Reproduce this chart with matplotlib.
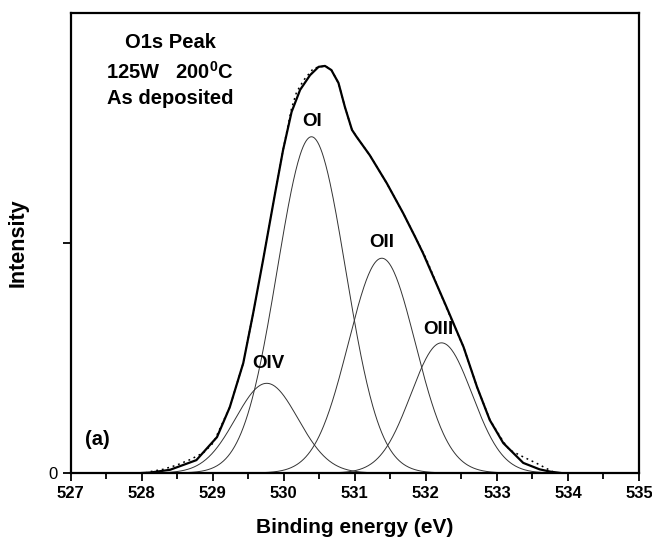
import numpy as np
import matplotlib
matplotlib.use("Agg")
import matplotlib.pyplot as plt
from matplotlib.ticker import MultipleLocator

plt.rcParams['font.family'] = ['Liberation Sans', 'DejaVu Sans']
plt.rcParams['mathtext.fontset'] = 'custom'
plt.rcParams['mathtext.bf'] = 'Liberation Sans:bold'
plt.rcParams['mathtext.rm'] = 'Liberation Sans'

# Envelope (thick line)
env_x = [528.0, 528.12, 528.4, 528.77, 529.06, 529.24, 529.43, 529.57, 529.71, 529.81,
         529.88, 529.99, 530.11, 530.23, 530.37, 530.49, 530.58, 530.67, 530.77,
         530.86, 530.96, 531.02, 531.21, 531.45, 531.68, 531.85, 531.96, 532.29,
         532.53, 532.72, 532.90, 533.09, 533.37, 533.60, 533.75, 533.9]
env_y = [0.0, 0.1, 0.7, 2.8, 7.8, 14.3, 23.9, 34.8, 46.4, 55.0,
         61.0, 70.2, 78.5, 83.3, 86.5, 88.3, 88.5, 87.6, 84.8,
         79.6, 74.6, 73.2, 69.1, 63.0, 56.5, 51.3, 47.8, 36.1,
         27.4, 18.7, 11.5, 6.5, 2.2, 0.8, 0.3, 0.0]

exp_x = [528.05, 528.12, 528.30, 528.49, 528.68, 528.87, 529.01, 529.24, 529.43,
         529.57, 529.71, 529.81, 529.88, 529.99, 530.11, 530.18, 530.28, 530.42,
         530.58, 530.67, 530.77, 530.86, 530.96, 531.02, 531.21, 531.45, 531.68,
         531.85, 532.01, 532.29, 532.53, 532.72, 532.90, 533.09, 533.18, 533.37,
         533.56, 533.82]
exp_y = [0.0, 0.3, 0.8, 1.7, 2.9, 4.4, 6.6, 14.3, 23.9,
         34.8, 46.4, 55.0, 61.0, 70.2, 79.3, 82.8, 85.4, 88.0,
         88.5, 87.6, 84.8, 79.6, 74.6, 73.2, 69.1, 63.0, 56.5,
         51.3, 46.4, 35.9, 27.4, 18.7, 11.6, 6.8, 5.0, 3.5,
         2.1, 0.0]

# Gaussian components: labels, centres (eV), heights, sigma (eV)
comp_names = ["OI", "OII", "OIII", "OIV"]
comp_center = [530.39, 531.38, 532.22, 529.76]
comp_height = [73.1, 46.7, 28.3, 19.5]
comp_sigma = [0.48, 0.47, 0.43, 0.44]

x_ticks = [527, 528, 529, 530, 531, 532, 533, 534, 535]

fig = plt.figure(figsize=(6.52, 5.43), dpi=100)
ax = fig.add_axes([0.1083, 0.1289, 0.9801 - 0.1083, 0.976 - 0.1289])

xs = np.linspace(527.9, 534.1, 600)
for c, h, s in zip(comp_center, comp_height, comp_sigma):
    ax.plot(xs, h * np.exp(-(xs - c) ** 2 / (2 * s ** 2)), color='#333333', lw=0.7)

ax.plot(exp_x, exp_y, color='black', lw=1.1, linestyle=(0, (1.2, 2.5)))
ax.plot(env_x, env_y, color='black', lw=1.6)

ax.set_xlim(527, 535)
ax.set_ylim(0, 100)
ax.set_xticks(x_ticks)
ax.set_xticklabels([str(t) for t in x_ticks], fontweight='bold', fontsize=12)
ax.xaxis.set_minor_locator(MultipleLocator(0.5))
ax.set_yticks([0, 50])
ax.set_yticklabels(['0', ''], fontsize=12)
ax.tick_params(axis='both', which='major', direction='out', length=6, width=1.3)
ax.tick_params(axis='x', which='minor', direction='out', length=4, width=1.3)
for sp in ax.spines.values():
    sp.set_linewidth(1.6)

ax.set_xlabel('Binding energy (eV)', fontweight='bold', fontsize=15, labelpad=12)
ax.set_ylabel('Intensity', fontweight='bold', fontsize=15.5, labelpad=14)

# annotations
def px(xp, yp):
    # convert image pixel to axes data
    e = 527 + (xp - 70.6) / 71.05
    v = (473 - yp) / 4.6
    return e, v

tx, ty = px(170, 42)
ax.text(tx, ty, 'O1s Peak', ha='center', va='center', fontweight='bold', fontsize=14.5)
tx, ty = px(170, 72)
ax.text(tx, ty, r'125W   200$^{\mathbf{0}}$C', ha='center', va='center', fontweight='bold', fontsize=14.5)
tx, ty = px(170, 98)
ax.text(tx, ty, 'As deposited', ha='center', va='center', fontweight='bold', fontsize=14.5)

label_pos = {"OI": (311.7, 121.7), "OII": (381.7, 242.7), "OIII": (438.3, 329.3), "OIV": (268.3, 363.3)}
for n in comp_names:
    tx, ty = px(*label_pos[n])
    ax.text(tx, ty, n, ha='center', va='center', fontweight='bold', fontsize=13.5)

tx, ty = px(97, 439)
ax.text(tx, ty, '(a)', ha='center', va='center', fontweight='bold', fontsize=14.5)

fig.savefig('out.png', dpi=100)
